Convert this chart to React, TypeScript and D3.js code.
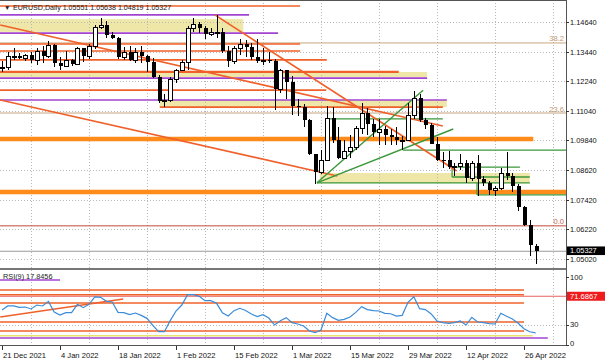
import React from "react";
import * as d3 from "d3";

// EURUSD daily, bar 0 = 21 Dec 2021 ... bar 92 = 28 Apr 2022
const opens = [
  1.1282, 1.1283, 1.1327, 1.1327, 1.1318, 1.1329, 1.131, 1.1348, 1.1325, 1.137,
  1.1297, 1.1287, 1.1312, 1.1296, 1.1359, 1.1325, 1.1366, 1.1443, 1.1455, 1.1412,
  1.14, 1.1324, 1.1343, 1.1311, 1.1345, 1.1326, 1.1302, 1.124, 1.1143, 1.1146,
  1.1234, 1.127, 1.1303, 1.144, 1.1457, 1.144, 1.1416, 1.1424, 1.1426, 1.1348,
  1.1305, 1.1359, 1.1374, 1.1362, 1.1322, 1.1308, 1.1309, 1.1307, 1.1191, 1.1268,
  1.122, 1.1124, 1.1118, 1.1065, 1.093, 1.0855, 1.0903, 1.1074, 1.0985, 1.0911,
  1.0941, 1.0955, 1.1036, 1.1094, 1.1051, 1.1016, 1.1031, 1.1004, 1.0998, 1.0984,
  1.0984, 1.1088, 1.1158, 1.1067, 1.1046, 1.0971, 1.0903, 1.0902, 1.0877, 1.0878,
  1.089, 1.0829, 1.0892, 1.0828, 1.0809, 1.078, 1.0788, 1.0851, 1.0837, 1.0797,
  1.0713, 1.0638, 1.05551,
];
const highs = [
  1.1306, 1.1345, 1.136, 1.134, 1.1335, 1.1345, 1.136, 1.1367, 1.1386, 1.1376,
  1.1322, 1.1346, 1.1316, 1.1364, 1.1361, 1.1375, 1.1452, 1.1482, 1.1468, 1.1424,
  1.1405, 1.1363, 1.1369, 1.136, 1.1369, 1.1331, 1.132, 1.1248, 1.1174, 1.124,
  1.1274, 1.131, 1.145, 1.1483, 1.1465, 1.1447, 1.144, 1.1495, 1.144, 1.1369,
  1.1368, 1.1395, 1.1391, 1.1381, 1.1395, 1.1359, 1.1344, 1.1314, 1.1274, 1.127,
  1.1245, 1.1154, 1.1131, 1.1072, 1.093, 1.0943, 1.1122, 1.1121, 1.1039, 1.0985,
  1.1006, 1.1042, 1.1137, 1.1114, 1.1072, 1.107, 1.1043, 1.1028, 1.1039, 1.1,
  1.1137, 1.1185, 1.1171, 1.1076, 1.1054, 1.0998, 1.0937, 1.094, 1.0893, 1.0927,
  1.0902, 1.09, 1.0923, 1.0838, 1.0817, 1.0799, 1.087, 1.0936, 1.0849, 1.0807,
  1.0716, 1.0658, 1.05638,
];
const lows = [
  1.1262, 1.127, 1.131, 1.1316, 1.1305, 1.13, 1.129, 1.13, 1.1318, 1.1283,
  1.1272, 1.1285, 1.1285, 1.1291, 1.1301, 1.1315, 1.1355, 1.1438, 1.14, 1.1395,
  1.1314, 1.131, 1.1305, 1.13, 1.13, 1.1263, 1.1236, 1.1135, 1.1121, 1.114,
  1.1217, 1.1264, 1.1271, 1.1425, 1.142, 1.1395, 1.141, 1.14, 1.134, 1.1281,
  1.1295, 1.1333, 1.1322, 1.1311, 1.13, 1.129, 1.13, 1.1106, 1.1175, 1.115,
  1.1088, 1.1082, 1.104, 1.0925, 1.0806, 1.0847, 1.09, 1.0974, 1.0906, 1.0911,
  1.0914, 1.0946, 1.1008, 1.1004, 1.0998, 1.0964, 1.0966, 1.0963, 1.0965, 1.0945,
  1.098, 1.1072, 1.1058, 1.1028, 1.0967, 1.09, 1.0873, 1.0869, 1.0837, 1.0864,
  1.0809, 1.0818, 1.0758, 1.08, 1.076, 1.0757, 1.078, 1.0823, 1.0772, 1.0698,
  1.0636, 1.0515, 1.04819,
];
const closes = [
  1.1283, 1.1327, 1.1327, 1.1318, 1.1329, 1.131, 1.1348, 1.1325, 1.137, 1.1297,
  1.1287, 1.1312, 1.1296, 1.1359, 1.1325, 1.1366, 1.1443, 1.1455, 1.1412, 1.14,
  1.1324, 1.1343, 1.1311, 1.1345, 1.1326, 1.1302, 1.124, 1.1143, 1.1146, 1.1234,
  1.127, 1.1303, 1.144, 1.1457, 1.144, 1.1416, 1.1424, 1.1426, 1.1348, 1.1305,
  1.1359, 1.1374, 1.1362, 1.1322, 1.1308, 1.1309, 1.1307, 1.1191, 1.1268, 1.122,
  1.1124, 1.1118, 1.1065, 1.093, 1.0855, 1.0903, 1.1074, 1.0985, 1.0911, 1.0941,
  1.0955, 1.1036, 1.1094, 1.1051, 1.1016, 1.1031, 1.1004, 1.0998, 1.0984, 1.0984,
  1.1088, 1.1158, 1.1067, 1.1046, 1.0971, 1.0903, 1.0902, 1.0877, 1.0878, 1.089,
  1.0829, 1.0892, 1.0828, 1.0809, 1.078, 1.0788, 1.0851, 1.0837, 1.0797, 1.0713,
  1.0638, 1.0557, 1.05327,
];

// RSI(9)
const rsi = [
  51.5, 57.4, 57.4, 55.4, 55.9, 53, 58.8, 57.4, 64.2, 48.5,
  44.1, 47.5, 47.5, 59.8, 54.9, 59.8, 70.6, 70.1, 64.2, 63.2,
  48, 47.5, 44.6, 47, 43.6, 39.2, 29, 19.6, 19.6, 35.8,
  50, 58.8, 74, 74, 71.6, 65.2, 65.2, 61.3, 47.5, 42.6,
  50.5, 54, 50.7, 45.6, 41.7, 44.6, 39.7, 29.4, 35.8, 40.2,
  32.8, 30.9, 27.9, 20.6, 18.1, 22, 46.6, 40.2, 36.3, 37.7,
  41.2, 48, 56.4, 52, 50.5, 50, 46.6, 46, 42.6, 43.6,
  62.7, 71, 53.4, 52, 45.6, 35.3, 32.8, 31.9, 32.8, 35.3,
  29.4, 40.7, 33.8, 32.8, 31.4, 30.9, 46.6, 42.2, 38.2, 31.9,
  24, 19.5, 17.85,
];

const priceTicks = [1.1464, 1.1344, 1.1224, 1.1104, 1.0984, 1.0862, 1.0742, 1.0622, 1.0502];
const dateTickBars = [0, 10, 20, 30, 40, 50, 60, 70, 80, 90];
const dateTickLabels = [
  "21 Dec 2021", "4 Jan 2022", "18 Jan 2022", "1 Feb 2022", "15 Feb 2022",
  "1 Mar 2022", "15 Mar 2022", "29 Mar 2022", "12 Apr 2022", "26 Apr 2022",
];
const gridBars = [5, 15, 25, 35, 45, 55, 65, 75, 85, 95];
const rsiTicks = [100, 30, 0];
const rsiLevel = 71.6867;
const lastPrice = 1.05327;

// chart objects: price levels with the bar range they span
const orangeLevels = [
  { p: 1.153, from: -1, to: 51.4 },
  { p: 1.1376, from: -1, to: 51.4 },
  { p: 1.1347, from: -1, to: 51.4 },
  { p: 1.1311, from: -1, to: 56 },
  { p: 1.1262, from: -1, to: 68.4 },
  { p: 1.1188, from: -1, to: 55.9 },
  { p: 1.1119, from: 27.2, to: 76 },
];
const thickOrangeLevels = [
  { p: 1.0989, from: -1, to: 91.6 },
  { p: 1.0774, from: -1, to: 99 },
];
const purpleLevels = [
  { p: 1.1494, from: -1, to: 42.6 },
  { p: 1.142, from: -1, to: 47.6 },
  { p: 1.1237, from: -1, to: 73.3 },
  { p: 1.1148, from: -1, to: 76.7 },
];
const yellowZones = [
  { top: 1.1477, bottom: 1.1425, from: -1, to: 41.6 },
  { top: 1.1262, bottom: 1.1241, from: -1, to: 73.3 },
  { top: 1.1148, bottom: 1.1119, from: 27.2, to: 76.7 },
  { top: 1.0851, bottom: 1.081, from: 54.8, to: 91 },
];
const greenLevels = [
  { p: 1.1071, from: 56, to: 76 },
  { p: 1.0944, from: 69.1, to: 99 },
  { p: 1.0875, from: 77.6, to: 89.3 },
  { p: 1.0835, from: 77.6, to: 91 },
  { p: 1.0811, from: 54.3, to: 91 },
  { p: 1.0762, from: 81.9, to: 99 },
];
const greenSteps = [
  { bar: 77.6, p1: 1.0875, p2: 1.0835 },
  { bar: 81.9, p1: 1.0811, p2: 1.0762 },
];
const fibLevels = [
  { label: "38.2", p: 1.138 },
  { label: "23.6", p: 1.1095 },
  { label: "0.0", p: 1.0636 },
];
const redTrends = [
  { b1: -0.3, p1: 1.1453, b2: 76, p2: 1.1042 },
  { b1: 36.7, p1: 1.1494, b2: 78.4, p2: 1.0859 },
  { b1: -0.3, p1: 1.1148, b2: 57.8, p2: 1.0839 },
];
const greenTrends = [
  { b1: 54.3, p1: 1.0811, b2: 72.6, p2: 1.1188 },
  { b1: 54.3, p1: 1.0811, b2: 77.8, p2: 1.103 },
];
const rsiOrangeLevels = [80.9, 74, 61.8, 33.8, 20.6];
const rsiTrend = { b1: -0.3, v1: 41.2, b2: 20.9, v2: 67.6 };

const FONT = "'Liberation Sans', Arial, sans-serif";
const ORANGE = "#f0602a";
const THICK = "#ff8c1a";
const PURPLE = "#a244d0";
const GREEN = "#3a973a";
const YELLOW = "#efe7a8";

export default function App() {
  const W = 605;
  const H = 363;
  const right = 566;
  const x = d3.scaleLinear().domain([0, 92]).range([2, 535.6]);
  const y = d3.scaleLinear().domain([1.0502, 1.1464]).range([258.8, 22.3]);
  const r = d3.scaleLinear().domain([0, 100]).range([345, 277]);

  const rsiPath = d3
    .line<number>()
    .x((_, i) => x(i))
    .y((d) => r(d))(rsi);

  const hl = (key: string, p: number, from: number, to: number, color: string, w: number) => (
    <line key={key} x1={x(from)} x2={x(to)} y1={y(p)} y2={y(p)} stroke={color} strokeWidth={w} />
  );

  return (
    <svg
      width={W}
      height={H}
      style={{ position: "absolute", left: 0, top: 0, background: "#fff" }}
      fontFamily={FONT}
    >
      <defs>
        <clipPath id="main">
          <rect x={0} y={0} width={right} height={268} />
        </clipPath>
        <clipPath id="sub">
          <rect x={0} y={270} width={right} height={75} />
        </clipPath>
      </defs>
      <rect width={W} height={H} fill="#fff" />

      <g clipPath="url(#main)">
        {yellowZones.map((z, i) => (
          <rect
            key={"z" + i}
            x={x(z.from)}
            width={x(z.to) - x(z.from)}
            y={y(z.top)}
            height={y(z.bottom) - y(z.top)}
            fill={YELLOW}
          />
        ))}
        {/* grid */}
        {priceTicks.map((t) => (
          <line key={"g" + t} x1={0} x2={right} y1={Math.round(y(t)) + 0.5} y2={Math.round(y(t)) + 0.5}
            stroke="#b8b8b8" strokeDasharray="1,2" />
        ))}
        {gridBars.map((b) => (
          <line key={"v" + b} x1={Math.round(x(b)) + 0.5} x2={Math.round(x(b)) + 0.5} y1={0} y2={268}
            stroke="#b8b8b8" strokeDasharray="1,2" />
        ))}

        {fibLevels.map((f) => (
          <line key={"f" + f.label} x1={0} x2={right} y1={y(f.p)} y2={y(f.p)}
            stroke={f.label === "0.0" ? "#c24a3c" : "#c9a47e"} strokeWidth={1} />
        ))}
        <line x1={0} x2={right} y1={y(lastPrice)} y2={y(lastPrice)} stroke="#9a9a9a" strokeWidth={1} />

        {purpleLevels.map((l, i) => hl("p" + i, l.p, l.from, l.to, PURPLE, 1.6))}
        {orangeLevels.map((l, i) => hl("o" + i, l.p, l.from, l.to, ORANGE, i === 4 ? 2.2 : 1.6))}
        {thickOrangeLevels.map((l, i) => hl("t" + i, l.p, l.from, l.to, THICK, 4.5))}
        {greenLevels.map((l, i) => hl("gl" + i, l.p, l.from, l.to, GREEN, 1.4))}
        {greenSteps.map((s, i) => (
          <line key={"gs" + i} x1={x(s.bar)} x2={x(s.bar)} y1={y(s.p1)} y2={y(s.p2)} stroke={GREEN} strokeWidth={1.2} />
        ))}
        {redTrends.map((t, i) => (
          <line key={"rt" + i} x1={x(t.b1)} y1={y(t.p1)} x2={x(t.b2)} y2={y(t.p2)} stroke={ORANGE} strokeWidth={1.6} />
        ))}
        {greenTrends.map((t, i) => (
          <line key={"gt" + i} x1={x(t.b1)} y1={y(t.p1)} x2={x(t.b2)} y2={y(t.p2)} stroke={GREEN} strokeWidth={1.4} />
        ))}

        {/* candles */}
        <g shapeRendering="crispEdges">
          {closes.map((c, i) => {
            const o = opens[i];
            const cx = Math.round(x(i));
            const yo = Math.round(y(o));
            const yc = Math.round(y(c));
            const bull = c >= o;
            const top = Math.min(yo, yc);
            const h = Math.max(1, Math.abs(yc - yo));
            return (
              <g key={"c" + i}>
                <line x1={cx + 0.5} x2={cx + 0.5} y1={Math.round(y(highs[i]))} y2={Math.round(y(lows[i]))} stroke="#000" />
                {bull ? (
                  <rect x={cx - 1.5} y={top + 0.5} width={4} height={h} fill="#fff" stroke="#000" />
                ) : (
                  <rect x={cx - 1} y={top} width={4} height={h} fill="#000" />
                )}
              </g>
            );
          })}
        </g>
      </g>

      {fibLevels.map((f) => (
        <text key={"fl" + f.label} x={564} y={y(f.p) - 1.5} fontSize={7.6} textAnchor="end"
          fill={f.label === "0.0" ? "#c0604e" : "#c09a72"}>
          {f.label}
        </text>
      ))}

      {/* header */}
      <text x={4} y={9.5} fontSize={6.5} fill="#222">▼</text>
      <text x={13} y={9.5} fontSize={7.1} fill="#222">
        EURUSD,Daily  1.05551 1.05638 1.04819 1.05327
      </text>

      {/* RSI panel */}
      <g clipPath="url(#sub)">
        <line x1={0} x2={right} y1={Math.round(r(30)) + 0.5} y2={Math.round(r(30)) + 0.5} stroke="#b8b8b8" strokeDasharray="1,2" />
        {gridBars.map((b) => (
          <line key={"rv" + b} x1={Math.round(x(b)) + 0.5} x2={Math.round(x(b)) + 0.5} y1={270} y2={345}
            stroke="#b8b8b8" strokeDasharray="1,2" />
        ))}
        <line x1={0} x2={right} y1={r(rsiLevel)} y2={r(rsiLevel)} stroke="#e86060" strokeWidth={1} />
        {rsiOrangeLevels.map((v) => (
          <line key={"ro" + v} x1={x(-1)} x2={x(90)} y1={r(v)} y2={r(v)} stroke={ORANGE} strokeWidth={1.6} />
        ))}
        <line x1={x(-1)} x2={x(91.5)} y1={r(13.7)} y2={r(13.7)} stroke="#e8e070" strokeWidth={1.4} />
        <line x1={x(-1)} x2={x(94.1)} y1={r(10.3)} y2={r(10.3)} stroke={PURPLE} strokeWidth={1.6} />
        <line x1={x(-1)} x2={x(10)} y1={r(95.5)} y2={r(95.5)} stroke={PURPLE} strokeWidth={1.6} />
        <line x1={x(rsiTrend.b1)} y1={r(rsiTrend.v1)} x2={x(rsiTrend.b2)} y2={r(rsiTrend.v2)} stroke={ORANGE} strokeWidth={1.6} />
        <path d={rsiPath ?? ""} fill="none" stroke="#3b8bd8" strokeWidth={1.2} />
      </g>
      <text x={3} y={278.5} fontSize={7.3} fill="#222">RSI(9) 17.8456</text>

      {/* frames */}
      <line x1={0} x2={right} y1={0.5} y2={0.5} stroke="#555" />
      <rect x={0} y={268} width={right} height={2} fill="#777" />
      <line x1={0} x2={right} y1={345.5} y2={345.5} stroke="#555" />
      <line x1={right + 0.5} x2={right + 0.5} y1={0} y2={346} stroke="#555" />

      {/* price axis */}
      {priceTicks.map((t, i) => (
        <g key={"pt" + t}>
          <line x1={right} x2={right + 3} y1={Math.round(y(t)) + 0.5} y2={Math.round(y(t)) + 0.5} stroke="#333" />
          <text x={570} y={y(t) + (i === priceTicks.length - 1 ? 3.6 : 2.8)} fontSize={7.4} fill="#111">{t.toFixed(5)}</text>
        </g>
      ))}
      <rect x={567} y={y(lastPrice) - 4.8} width={38} height={8.6} fill="#000" />
      <text x={570} y={y(lastPrice) + 2.2} fontSize={7.4} fill="#fff">{lastPrice.toFixed(5)}</text>

      {/* RSI axis */}
      {rsiTicks.map((t) => (
        <g key={"rt" + t}>
          <line x1={right} x2={right + 3} y1={Math.round(r(t)) + 0.5} y2={Math.round(r(t)) + 0.5} stroke="#333" />
          <text x={570} y={Math.min(r(t) + 2.8, 345.5)} fontSize={7.6} fill="#111">{t}</text>
        </g>
      ))}
      <rect x={567} y={r(rsiLevel) - 4.5} width={38} height={9} fill="#ee1c1c" />
      <text x={570} y={r(rsiLevel) + 2.8} fontSize={7.6} fill="#fff">{rsiLevel.toFixed(4)}</text>

      {/* time axis */}
      {dateTickBars.map((b, i) => (
        <g key={"dt" + b}>
          <line x1={Math.round(x(b)) + 0.5} x2={Math.round(x(b)) + 0.5} y1={346} y2={350} stroke="#333" />
          <text x={x(b) + 1} y={358} fontSize={7.6} fill="#111">{dateTickLabels[i]}</text>
        </g>
      ))}
    </svg>
  );
}
